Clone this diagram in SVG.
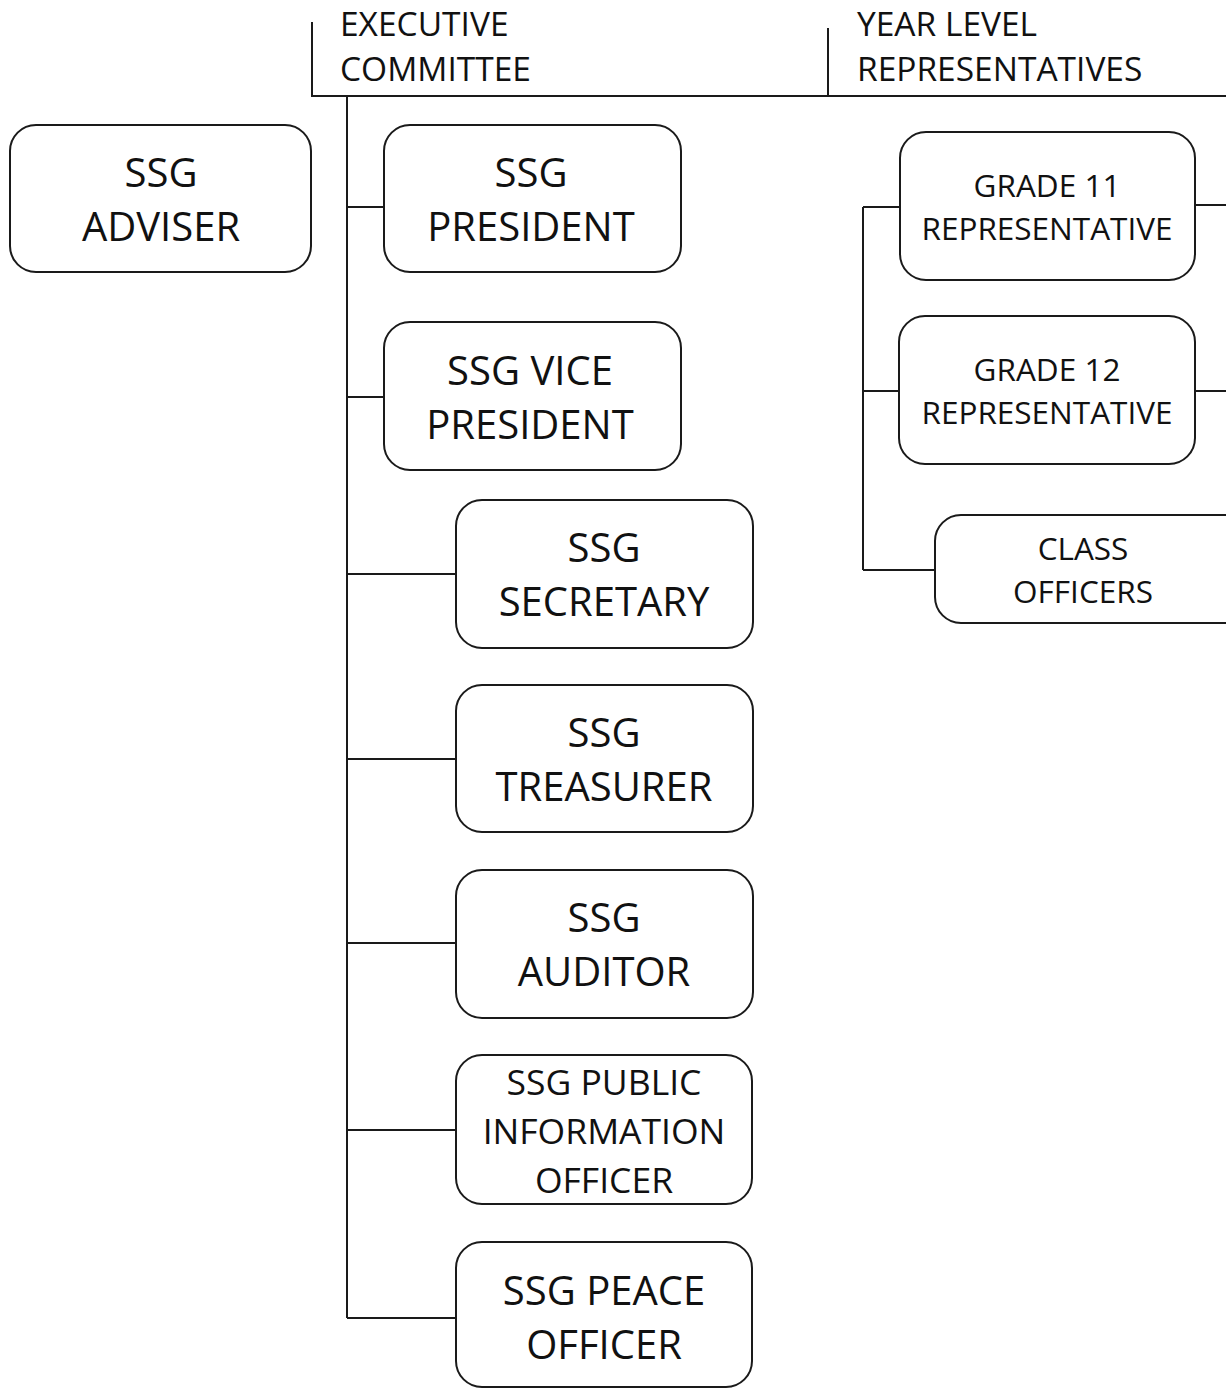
<svg xmlns="http://www.w3.org/2000/svg" width="1226" height="1389" viewBox="0 0 1226 1389">
<style>
.box{fill:#fff;stroke:#1a1a1a;stroke-width:2}
.ln{fill:none;stroke:#1a1a1a;stroke-width:2}
text{font-family:"Open Sans","Noto Sans",sans-serif;fill:#111;text-anchor:middle}
.big{font-size:40px}
.mid{font-size:35.5px}
.sm{font-size:31.5px}
.hd{font-size:33.5px;text-anchor:start}
</style>
<rect width="1226" height="1389" fill="#fff"/>
<g id="connectors">
<path class="ln" d="M312,22 V96 H1226 M828,28 V96"/>
<path class="ln" d="M347,96 V1318 M347,207 H384 M347,397 H384 M347,574 H456 M347,759 H456 M347,943 H456 M347,1130 H456 M347,1318 H456"/>
<path class="ln" d="M863,207 V570 M863,207 H900 M863,391 H899 M863,570 H935 M1195,205 H1226 M1195,391 H1226"/>
</g>
<g id="hdr-exec"><text class="hd" x="340" y="36">EXECUTIVE</text><text class="hd" x="340" y="81">COMMITTEE</text></g>
<g id="hdr-year"><text class="hd" x="857" y="36">YEAR LEVEL</text><text class="hd" x="857" y="81">REPRESENTATIVES</text></g>
<g id="adviser"><rect class="box" x="10" y="125" width="301" height="147" rx="26"/><text class="big" x="161" y="187">SSG</text><text class="big" x="161" y="241">ADVISER</text></g>
<g id="president"><rect class="box" x="384" y="125" width="297" height="147" rx="26"/><text class="big" x="531" y="187">SSG</text><text class="big" x="531" y="241">PRESIDENT</text></g>
<g id="vp"><rect class="box" x="384" y="322" width="297" height="148" rx="26"/><text class="big" x="530" y="385">SSG VICE</text><text class="big" x="530" y="439">PRESIDENT</text></g>
<g id="secretary"><rect class="box" x="456" y="500" width="297" height="148" rx="26"/><text class="big" x="604" y="562">SSG</text><text class="big" x="604" y="616">SECRETARY</text></g>
<g id="treasurer"><rect class="box" x="456" y="685" width="297" height="147" rx="26"/><text class="big" x="604" y="747">SSG</text><text class="big" x="604" y="801">TREASURER</text></g>
<g id="auditor"><rect class="box" x="456" y="870" width="297" height="148" rx="26"/><text class="big" x="604" y="932">SSG</text><text class="big" x="604" y="986">AUDITOR</text></g>
<g id="pio"><rect class="box" x="456" y="1055" width="296" height="149" rx="26"/><text class="mid" x="604" y="1095">SSG PUBLIC</text><text class="mid" x="604" y="1144">INFORMATION</text><text class="mid" x="604" y="1193">OFFICER</text></g>
<g id="peace"><rect class="box" x="456" y="1242" width="296" height="145" rx="26"/><text class="big" x="604" y="1305">SSG PEACE</text><text class="big" x="604" y="1359">OFFICER</text></g>
<g id="grade11"><rect class="box" x="900" y="132" width="295" height="148" rx="26"/><text class="sm" x="1047" y="197">GRADE 11</text><text class="sm" x="1047" y="240">REPRESENTATIVE</text></g>
<g id="grade12"><rect class="box" x="899" y="316" width="296" height="148" rx="26"/><text class="sm" x="1047" y="381">GRADE 12</text><text class="sm" x="1047" y="424">REPRESENTATIVE</text></g>
<g id="class"><rect class="box" x="935" y="515" width="320" height="108" rx="26"/><text class="sm" x="1083" y="560">CLASS</text><text class="sm" x="1083" y="603">OFFICERS</text></g>
</svg>
